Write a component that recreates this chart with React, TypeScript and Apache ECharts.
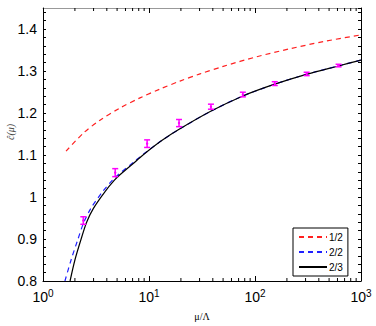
import React, { useEffect, useRef } from "react";
import * as echarts from "echarts";

// Curve 1/2 (red dashed)
const muRed = [1.65, 2.4, 3.45, 5.33, 8.22, 12.7, 19.6, 30.3, 50.2, 104, 214, 441, 1000];
const cRed = [1.109, 1.152, 1.183, 1.212, 1.236, 1.257, 1.276, 1.293, 1.311, 1.334, 1.353, 1.37, 1.386];

// Curve 2/2 (blue dashed)
const muBlue = [1.61, 1.84, 2.12, 2.43, 2.83, 3.66, 4.52, 5.12, 7.48, 9.29, 13.3, 18.9, 38.2, 75.9, 151, 305, 611, 1000];
const cBlue = [0.8, 0.85, 0.897, 0.94, 0.973, 1.013, 1.04, 1.053, 1.087, 1.106, 1.135, 1.16, 1.204, 1.24, 1.268, 1.292, 1.312, 1.326];

// Curve 2/3 (black solid)
const muBlack = [1.8, 2.0, 2.27, 2.58, 2.99, 3.85, 4.72, 5.32, 7.66, 9.38, 13.3, 18.9, 38.2, 75.9, 151, 305, 611, 1000];
const cBlack = [0.8, 0.85, 0.897, 0.94, 0.973, 1.013, 1.04, 1.053, 1.087, 1.106, 1.135, 1.16, 1.204, 1.24, 1.268, 1.292, 1.312, 1.326];

// Lattice data with error bars
const muData = [2.4, 4.8, 9.6, 19.2, 38.4, 76.8, 153.6, 307.2, 614.4];
const cData = [0.944, 1.058, 1.127, 1.176, 1.215, 1.244, 1.27, 1.293, 1.313];
const cErr = [0.009, 0.0095, 0.009, 0.0085, 0.006, 0.0055, 0.0045, 0.004, 0.003];

const xMinorTicks = [2, 3, 4, 5, 6, 7, 8, 9, 20, 30, 40, 50, 60, 70, 80, 90, 200, 300, 400, 500, 600, 700, 800, 900];

const X_MIN = 1;
const X_MAX = 1000;
const Y_MIN = 0.8;
const Y_MAX = 1.45;

const seriesNames = ["1/2", "2/2", "2/3"];

const pair = (xs: number[], ys: number[]) => xs.map((x, i) => [x, ys[i]]);

export default function App() {
  const ref = useRef<HTMLDivElement>(null);
  useEffect(() => {
    const chart = echarts.init(ref.current!, null, { renderer: "svg" });
    const axisFont = "Liberation Sans";
    const xAxisCommon = {
      type: "log" as const,
      logBase: 10,
      min: X_MIN,
      max: X_MAX,
      splitLine: { show: false },
      axisTick: { inside: true, length: 5, lineStyle: { color: "#000" } },
    };
    const yAxisCommon = {
      type: "value" as const,
      min: Y_MIN,
      max: Y_MAX,
      interval: 0.02,
      splitLine: { show: false },
      axisTick: { inside: true, length: 3, lineStyle: { color: "#000" } },
    };
    const lineCommon = {
      type: "line" as const,
      symbol: "none",
      smooth: 0.3,
    };
    chart.setOption({
      animation: false,
      grid: { left: 43, right: 15, top: 8, bottom: 39, containLabel: false },
      legend: {
        data: seriesNames,
        orient: "vertical",
        left: 293,
        top: 228,
        itemWidth: 28,
        itemHeight: 10,
        itemGap: 5,
        borderColor: "#000",
        borderWidth: 1,
        padding: [4, 5, 4, 5],
        backgroundColor: "#fff",
        itemStyle: { opacity: 0 },
        textStyle: { fontSize: 10, color: "#000", fontFamily: axisFont, padding: [0, 0, 0, -3] },
      },
      xAxis: [
        {
          ...xAxisCommon,
          position: "bottom",
          name: "μ/Λ",
          nameLocation: "middle",
          nameGap: 30,
          nameTextStyle: { fontSize: 10, fontFamily: "Liberation Serif", color: "#000" },
          axisLine: { lineStyle: { color: "#000", width: 1 } },
          axisLabel: {
            margin: 7,
            formatter: (v: number) => `{b|10}{s|${Math.round(Math.log10(v))}}`,
            rich: {
              b: { fontSize: 14, fontFamily: axisFont, color: "#000", lineHeight: 18 },
              s: { fontSize: 10, fontFamily: axisFont, color: "#000", verticalAlign: "top", lineHeight: 18 },
            },
          },
        },
        {
          ...xAxisCommon,
          position: "top",
          axisLine: { lineStyle: { color: "#999", width: 1 } },
          axisLabel: { show: false },
        },
      ],
      yAxis: [
        {
          ...yAxisCommon,
          position: "left",
          axisLine: { lineStyle: { color: "#000", width: 1 } },
          axisLabel: {
            margin: 6,
            fontSize: 14,
            fontFamily: axisFont,
            color: "#000",
            showMaxLabel: false,
            formatter: (v: number) => {
              const t = v * 10;
              if (Math.abs(t - Math.round(t)) > 1e-6) return "";
              const r = Math.round(t) / 10;
              return r === 1 ? "1" : String(r);
            },
          },
        },
        {
          ...yAxisCommon,
          position: "right",
          axisLine: { lineStyle: { color: "#000", width: 1 } },
          axisLabel: { show: false },
        },
      ],
      graphic: [
        {
          type: "text",
          x: 10,
          y: 132,
          rotation: Math.PI / 2,
          style: {
            text: "ĉ(μ)",
            font: "italic 10px 'Liberation Serif'",
            fill: "#444",
            align: "center",
            verticalAlign: "middle",
          },
        },
      ],
      series: [
        {
          ...lineCommon,
          name: "1/2",
          data: pair(muRed, cRed),
          lineStyle: { color: "#ff2020", width: 1.2, type: [5, 4] },
          itemStyle: { color: "#ff2020" },
        },
        {
          ...lineCommon,
          name: "2/2",
          data: pair(muBlue, cBlue),
          lineStyle: { color: "#2020ff", width: 1.2, type: [5, 4] },
          itemStyle: { color: "#2020ff" },
        },
        {
          ...lineCommon,
          name: "2/3",
          data: pair(muBlack, cBlack),
          lineStyle: { color: "#000", width: 1.2 },
          itemStyle: { color: "#000" },
        },
        {
          name: "data",
          type: "custom",
          data: muData.map((m, i) => [m, cData[i], cErr[i]]),
          encode: { x: 0, y: 1 },
          silent: true,
          renderItem: (params: any, api: any) => {
            const m = api.value(0);
            const c = api.value(1);
            const e = api.value(2);
            const top = api.coord([m, c + e]);
            const bot = api.coord([m, c - e]);
            const mid = api.coord([m, c]);
            const w = 3;
            const st = { stroke: "#ff00ff", lineWidth: 1.5 };
            return {
              type: "group",
              children: [
                { type: "line", shape: { x1: top[0], y1: top[1], x2: bot[0], y2: bot[1] }, style: st },
                { type: "line", shape: { x1: top[0] - w, y1: top[1], x2: top[0] + w, y2: top[1] }, style: st },
                { type: "line", shape: { x1: bot[0] - w, y1: bot[1], x2: bot[0] + w, y2: bot[1] }, style: st },
                { type: "circle", shape: { cx: mid[0], cy: mid[1], r: 1.2 }, style: { fill: "#ff00ff" } },
              ],
            };
          },
          z: 5,
        },
        {
          name: "minorTicks",
          type: "custom",
          data: xMinorTicks.map((v) => [v, Y_MIN]),
          encode: { x: 0, y: 1 },
          silent: true,
          clip: false,
          renderItem: (params: any, api: any) => {
            const x = api.value(0);
            const pb = api.coord([x, Y_MIN]);
            const pt = api.coord([x, Y_MAX]);
            const st = { stroke: "#000", lineWidth: 1 };
            return {
              type: "group",
              children: [
                { type: "line", shape: { x1: pb[0], y1: pb[1], x2: pb[0], y2: pb[1] - 3 }, style: st },
                { type: "line", shape: { x1: pt[0], y1: pt[1], x2: pt[0], y2: pt[1] + 3 }, style: st },
              ],
            };
          },
        },
      ],
    });
    return () => chart.dispose();
  }, []);
  return <div ref={ref} style={{ position: "absolute", left: 0, top: 0, width: 376, height: 326 }} />;
}
